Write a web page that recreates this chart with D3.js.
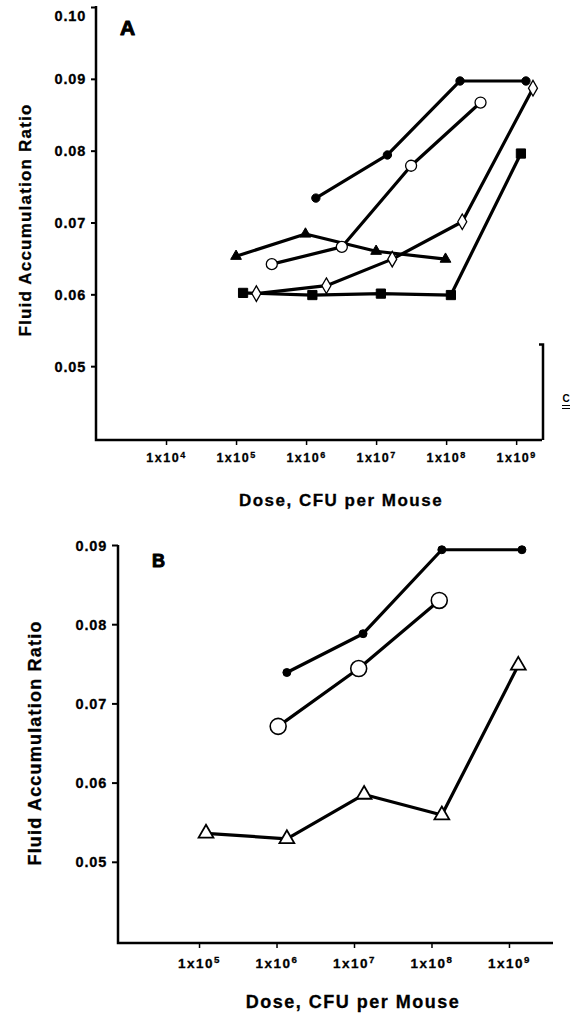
<!DOCTYPE html>
<html>
<head>
    <meta charset="utf-8" />
    <title>Fluid accumulation vs dose</title>
    <script src="https://cdn.jsdelivr.net/npm/d3@7"></script>
    <style>
        body { margin: 0; background: #fff; }
        text { font-family: "Liberation Sans", Arial, sans-serif; font-weight: bold; fill: #000; }
    </style>
</head>
<body>
<script>
    // Panel A data (dose in CFU, fluid accumulation ratio)
    var aDotsDose = [1.38e6, 1.45e7, 1.58e8, 1.38e9];
    var aDotsVal = [0.0734, 0.0794, 0.0897, 0.0897];
    var aCircDose = [3.24e5, 3.24e6, 3.16e7, 3.1e8];
    var aCircVal = [0.0642, 0.0666, 0.0779, 0.0867];
    var aTriDose = [1.0e5, 9.8e5, 1.0e7, 9.8e7];
    var aTriVal = [0.0653, 0.0684, 0.0660, 0.0649];
    var aSqDose = [1.26e5, 1.23e6, 1.17e7, 1.17e8, 1.17e9];
    var aSqVal = [0.0602, 0.0599, 0.0601, 0.0599, 0.0796];
    var aDiaDose = [1.95e5, 1.95e6, 1.7e7, 1.7e8, 1.74e9];
    var aDiaVal = [0.0601, 0.0612, 0.0649, 0.0701, 0.0887];

    // Panel B data
    var bDotsDose = [1.36e6, 1.31e7, 1.36e8, 1.47e9];
    var bDotsVal = [0.0739, 0.0788, 0.0894, 0.0894];
    var bCircDose = [1.05e6, 1.15e7, 1.26e8];
    var bCircVal = [0.0671, 0.0744, 0.0830];
    var bTriDose = [1.23e5, 1.36e6, 1.35e7, 1.36e8, 1.32e9];
    var bTriVal = [0.0536, 0.0529, 0.0585, 0.0559, 0.0748];

    // ticks
    var aXTicks = [1e4, 1e5, 1e6, 1e7, 1e8, 1e9];
    var bXTicks = [1e5, 1e6, 1e7, 1e8, 1e9];
    var aYTicks = [0.05, 0.06, 0.07, 0.08, 0.09, 0.10];
    var bYTicks = [0.05, 0.06, 0.07, 0.08, 0.09];

    var w = 576, h = 1020;

    var svg = d3.select("body").append("svg")
        .attr("width", w)
        .attr("height", h);

    function zip(ds, vs) {
        return ds.map(function (d, i) { return { dose: d, v: vs[i] }; });
    }

    //Draws one panel: axes, series lines, markers
    function panel(cfg) {
        var x = d3.scaleLog().domain(cfg.xDomain).range(cfg.xRange);
        var y = d3.scaleLinear().domain(cfg.yDomain).range(cfg.yRange);
        var g = svg.append("g");

        // L-shaped frame
        g.append("path")
            .attr("d", "M" + cfg.xRange[0] + "," + cfg.yTop + "L" + cfg.xRange[0] + "," + cfg.base + "L" + cfg.xRange[1] + "," + cfg.base)
            .attr("fill", "none").attr("stroke", "#000").attr("stroke-width", 2.5);

        var yAxis = g.append("g")
            .attr("transform", "translate(" + cfg.xRange[0] + ",0)")
            .call(d3.axisLeft(y).tickValues(cfg.yTicks).tickFormat(d3.format(".2f"))
                .tickSize(cfg.yTickSize).tickPadding(cfg.yPad));
        yAxis.select(".domain").remove();
        yAxis.selectAll("line").attr("stroke-width", 2);
        yAxis.selectAll("text")
            .attr("font-size", cfg.yFont + "px")
            .attr("letter-spacing", "0.8px")
            .attr("stroke", "#000").attr("stroke-width", 0.3)
            .attr("font-family", null)
            .attr("dy", function (d) { return d === 0.10 ? "0.95em" : "0.35em"; });

        var xAxis = g.append("g")
            .attr("transform", "translate(0," + cfg.base + ")")
            .call(d3.axisBottom(x).tickValues(cfg.xTicks).tickSize(5).tickPadding(cfg.xPad));
        xAxis.select(".domain").remove();
        xAxis.selectAll("line").attr("stroke-width", 1.5);
        xAxis.selectAll("text")
            .attr("font-size", cfg.xFont + "px")
            .attr("font-family", null)
            .attr("letter-spacing", "1.5px")
            .attr("stroke", "#000").attr("stroke-width", 0.3)
            .each(function (d) {
                var t = d3.select(this).text("");
                t.append("tspan").text("1x10");
                t.append("tspan").attr("dy", "-0.45em").attr("font-size", "0.72em")
                    .text(Math.round(Math.log10(d)));
            });

        var line = d3.line()
            .x(function (d) { return x(d.dose); })
            .y(function (d) { return y(d.v); });

        cfg.series.forEach(function (s) {
            g.append("path")
                .datum(s.data)
                .attr("d", line)
                .attr("fill", "none")
                .attr("stroke", "#000")
                .attr("stroke-width", 3.2)
                .attr("stroke-linejoin", "round");
        });

        cfg.series.forEach(function (s) {
            g.selectAll(null)
                .data(s.data)
                .enter()
                .append("path")
                .attr("transform", function (d) { return "translate(" + x(d.dose) + "," + y(d.v) + ")"; })
                .attr("d", d3.symbol().type(s.sym).size(s.size))
                .attr("fill", s.fill)
                .attr("stroke", "#000")
                .attr("stroke-width", s.sw);
        });

        // titles
        g.append("text")
            .attr("transform", "translate(" + cfg.yTitle[0] + "," + cfg.yTitle[1] + ") rotate(-90)")
            .attr("text-anchor", "middle")
            .attr("dy", "0.35em")
            .attr("font-size", cfg.titleFont + "px")
            .attr("letter-spacing", "1.2px")
            .attr("stroke", "#000").attr("stroke-width", 0.3)
            .text("Fluid Accumulation Ratio");

        g.append("text")
            .attr("x", cfg.xTitle[0]).attr("y", cfg.xTitle[1])
            .attr("text-anchor", "middle")
            .attr("font-size", cfg.titleFont + "px")
            .attr("letter-spacing", "1.5px")
            .attr("stroke", "#000").attr("stroke-width", 0.3)
            .text("Dose, CFU per Mouse");

        g.append("text")
            .attr("x", cfg.letter[0]).attr("y", cfg.letter[1])
            .attr("font-size", cfg.letterFont + "px")
            .attr("stroke", "#000").attr("stroke-width", 1)
            .attr("stroke-linejoin", "round")
            .text(cfg.name);

        return { x: x, y: y, g: g };
    }

    var A = panel({
        name: "A",
        xDomain: [1e3, 2.34e9], xRange: [96, 542],
        yDomain: [0.04, 0.10], yRange: [438, 7],
        yTop: 6, base: 440,
        xTicks: aXTicks, yTicks: aYTicks,
        yTickSize: 5, yPad: 5, yFont: 14.5, xFont: 12.5, xPad: 8,
        yTitle: [25, 220], xTitle: [341, 506], titleFont: 17,
        letter: [120, 35], letterFont: 21,
        series: [
            { data: zip(aTriDose, aTriVal), sym: d3.symbolTriangle, size: 50, fill: "#000", sw: 1 },
            { data: zip(aSqDose, aSqVal), sym: d3.symbolSquare, size: 85, fill: "#000", sw: 1 },
            { data: zip(aDiaDose, aDiaVal), sym: d3.symbolDiamond, size: 70, fill: "#fff", sw: 1.3 },
            { data: zip(aCircDose, aCircVal), sym: d3.symbolCircle, size: 95, fill: "#fff", sw: 1.3 },
            { data: zip(aDotsDose, aDotsVal), sym: d3.symbolCircle, size: 55, fill: "#000", sw: 1 }
        ]
    });

    // broken right-hand frame and the stray "C" mark of panel A
    var yBr = A.y(0.053);
    A.g.append("path")
        .attr("d", "M539," + yBr + "L543," + yBr + "L543,440")
        .attr("fill", "none").attr("stroke", "#000").attr("stroke-width", 2.5);
    A.g.append("text").attr("x", 566).attr("y", 402)
        .attr("text-anchor", "middle").attr("font-size", "10px").text("C");
    A.g.append("path").attr("d", "M562,405.5H570M562,408.5H570")
        .attr("stroke", "#000").attr("stroke-width", 1.2);

    panel({
        name: "B",
        xDomain: [9e3, 3.7e9], xRange: [118, 553],
        yDomain: [0.04, 0.09], yRange: [941, 545],
        yTop: 545, base: 943,
        xTicks: bXTicks, yTicks: bYTicks,
        yTickSize: 6, yPad: 5, yFont: 14.5, xFont: 13.5, xPad: 10,
        yTitle: [35, 743], xTitle: [353, 1008], titleFont: 18,
        letter: [152, 567], letterFont: 18,
        series: [
            { data: zip(bTriDose, bTriVal), sym: d3.symbolTriangle, size: 95, fill: "#fff", sw: 1.8 },
            { data: zip(bCircDose, bCircVal), sym: d3.symbolCircle, size: 200, fill: "#fff", sw: 1.6 },
            { data: zip(bDotsDose, bDotsVal), sym: d3.symbolCircle, size: 50, fill: "#000", sw: 1 }
        ]
    });
</script>
</body>
</html>
